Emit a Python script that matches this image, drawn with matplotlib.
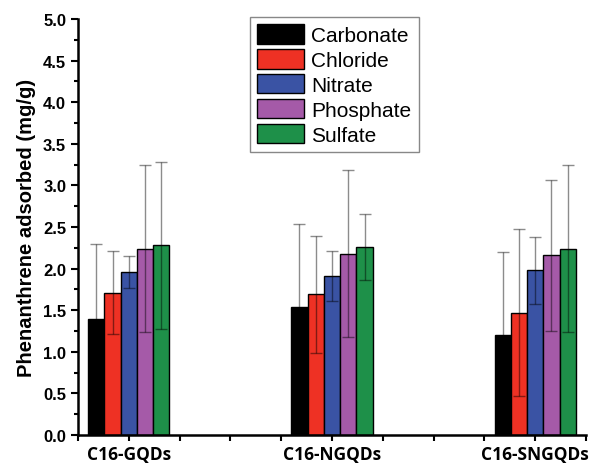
import matplotlib
matplotlib.use("Agg")
import matplotlib.pyplot as plt
from matplotlib.ticker import MultipleLocator

groups = ["C16-GQDs", "C16-NGQDs", "C16-SNGQDs"]
group_pos = [1, 5, 9]
anions = ["Carbonate", "Chloride", "Nitrate", "Phosphate", "Sulfate"]
colors = ["#000000", "#EE3124", "#3A53A4", "#A55AA8", "#1E9049"]

# mean adsorbed (mg/g), one list per anion across the three groups
carbonate = [1.39, 1.54, 1.20]
chloride = [1.71, 1.69, 1.47]
nitrate = [1.96, 1.91, 1.98]
phosphate = [2.24, 2.18, 2.16]
sulfate = [2.28, 2.26, 2.24]

carbonate_err = [0.91, 1.00, 1.00]
chloride_err = [0.50, 0.70, 1.00]
nitrate_err = [0.19, 0.30, 0.40]
phosphate_err = [1.00, 1.00, 0.91]
sulfate_err = [1.00, 0.40, 1.00]

values = [carbonate, chloride, nitrate, phosphate, sulfate]
errors = [carbonate_err, chloride_err, nitrate_err, phosphate_err, sulfate_err]

plt.rcParams['font.family'] = ['Liberation Sans', 'DejaVu Sans']

fig = plt.figure(figsize=(5.93, 4.64), dpi=100)
ax = fig.add_axes([78/593, 1 - 436/464, 508/593, 416/464])

width = 0.32
for i, (name, vals, errs, c) in enumerate(zip(anions, values, errors, colors)):
    xs = [g + (i - 2) * width for g in group_pos]
    ax.bar(xs, vals, width, color=c, edgecolor='black', linewidth=1.0, label=name, zorder=2)
    ax.errorbar(xs, vals, yerr=errs, fmt='none', ecolor='black', alpha=0.45,
                elinewidth=1.0, capsize=4.5, capthick=1.0, zorder=3)

ax.set_xlim(0, 10)
ax.set_ylim(0, 5.0)
ax.yaxis.set_major_locator(MultipleLocator(0.5))
ax.yaxis.set_minor_locator(MultipleLocator(0.25))
ax.set_xticks(group_pos, labels=groups, minor=False)
ax.set_xticks(range(0, 11), minor=True)
ax.tick_params(axis='x', which='both', length=4, width=1.5)
ax.tick_params(axis='y', which='major', length=5, width=1.5, labelsize=12)
ax.tick_params(axis='y', which='minor', length=3, width=1.5)
for lab in ax.get_yticklabels():
    lab.set_fontweight('bold')
for lab in ax.get_xticklabels():
    lab.set_fontweight('bold')
    lab.set_family(['Open Sans', 'DejaVu Sans'])
    lab.set_fontsize(12.5)

ax.spines['top'].set_visible(False)
ax.spines['right'].set_visible(False)
ax.spines['left'].set_linewidth(1.8)
ax.spines['bottom'].set_linewidth(1.8)

ax.set_ylabel("Phenanthrene adsorbed (mg/g)", fontsize=14.5, fontweight='bold', labelpad=5)

leg = ax.legend(loc='upper left', bbox_to_anchor=(250/593, 1 - 18/464),
                bbox_transform=fig.transFigure, borderaxespad=0, fontsize=15,
                handlelength=2.25, handleheight=1.05, labelspacing=0.2,
                handletextpad=0.35, borderpad=0.35, fancybox=False, framealpha=1)
leg.get_frame().set_edgecolor('#888888')
leg.get_frame().set_linewidth(1.0)

fig.savefig("out.png", dpi=100)
